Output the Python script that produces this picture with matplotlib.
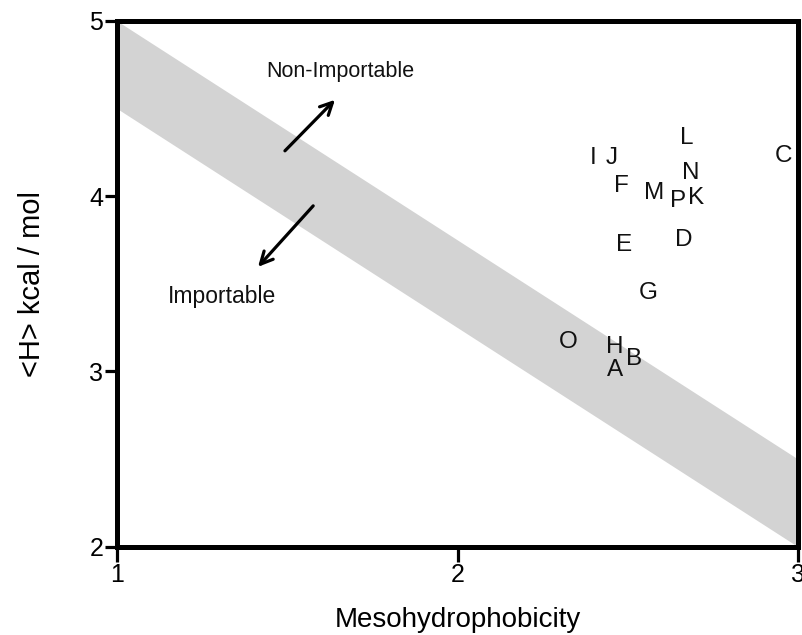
import matplotlib
matplotlib.use("Agg")
import matplotlib.pyplot as plt

plt.rcParams['font.family'] = ['Liberation Sans', 'DejaVu Sans']

# Data
labels = ["A", "B", "C", "D", "E", "F", "G", "H", "I", "J", "K", "L", "M", "N", "O", "P"]
meso = [2.463, 2.518, 2.956, 2.665, 2.489, 2.480, 2.559, 2.463, 2.398, 2.454,
        2.700, 2.674, 2.577, 2.686, 2.325, 2.648]
h_val = [3.01, 3.07, 4.23, 3.75, 3.72, 4.06, 3.45, 3.14, 4.22, 4.22,
         3.99, 4.33, 4.02, 4.13, 3.17, 3.97]

band_x = [1.0, 3.0]
band_lower = [4.5, 2.0]
band_upper = [5.0, 2.5]

x_ticks = [1, 2, 3]
y_ticks = [2, 3, 4, 5]

fig = plt.figure(figsize=(8.02, 6.35), dpi=100)
ax = fig.add_axes([0.146, 0.139, 0.849, 0.828])

ax.fill_between(band_x, band_lower, band_upper, color="#d3d3d3", linewidth=0, zorder=1)

for lab, x, y in zip(labels, meso, h_val):
    ax.text(x, y, lab, ha="center", va="center", fontsize=17.5, color="#111111", zorder=3)

# Arrows and annotations
ax.annotate("", xy=(1.640, 4.550), xytext=(1.493, 4.259),
            arrowprops=dict(arrowstyle="->", lw=2.3, color="black", mutation_scale=22,
                            shrinkA=0, shrinkB=0))
ax.annotate("", xy=(1.414, 3.597), xytext=(1.576, 3.945),
            arrowprops=dict(arrowstyle="->", lw=2.3, color="black", mutation_scale=22,
                            shrinkA=0, shrinkB=0))
ax.text(1.655, 4.71, "Non-Importable", ha="center", va="center", fontsize=15.5, color="#111111")
ax.text(1.308, 3.426, "Importable", ha="center", va="center", fontsize=16.5, color="#111111")

ax.set_xlim(1, 3)
ax.set_ylim(2, 5)
ax.set_xticks(x_ticks)
ax.set_yticks(y_ticks)
ax.set_xticklabels([str(t) for t in x_ticks])
ax.set_yticklabels([str(t) for t in y_ticks])

for s in ax.spines.values():
    s.set_linewidth(3.6)
    s.set_zorder(4)
ax.tick_params(axis="x", length=11, width=2.3, labelsize=18, pad=1, direction="out")
ax.tick_params(axis="y", length=9, width=2.3, labelsize=18, pad=1, direction="out")

ax.set_xlabel("Mesohydrophobicity", fontsize=20, labelpad=14)
ax.set_ylabel("<H> kcal / mol", fontsize=21, labelpad=31)

fig.savefig("out.png", dpi=100)
